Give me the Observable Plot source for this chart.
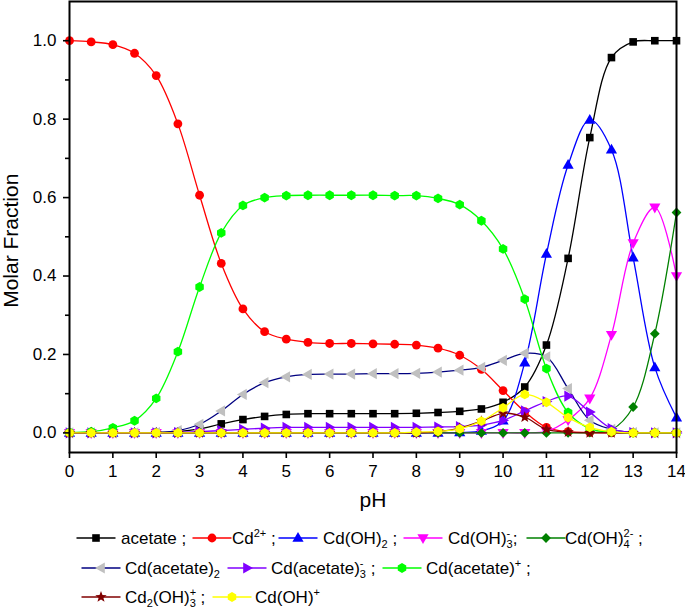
<!DOCTYPE html>
<html>
<head>
<meta charset="utf-8">
<script src="https://cdn.jsdelivr.net/npm/d3@7"></script>
<script src="https://cdn.jsdelivr.net/npm/@observablehq/plot@0.6"></script>
<style>
  body { margin: 0; background: #fff; font-family: "Liberation Sans", Arial, sans-serif; }
  #chart { width: 685px; height: 515px; }
  #legend { position: relative; width: 685px; height: 96px; font-size: 17px; color: #000; }
  .sample { position: absolute; width: 40px; height: 20px; }
  .lab { position: absolute; height: 20px; line-height: 20px; white-space: nowrap; }
  sub, sup { font-size: 11px; line-height: 0; }
  sub { vertical-align: -4px; }
  sup { vertical-align: 7px; }
  .ss { position: relative; display: inline-block; font-size: 11px; line-height: 11px; }
  .ss .w { visibility: hidden; }
  .ss .p, .ss .b { position: absolute; left: 0; line-height: 11px; }
  .ss .p { top: -7px; }
  .ss .b { top: 4px; }
</style>
</head>
<body>
<div id="chart"></div>
<div id="legend"></div>
<script>
// ---- data ----
const pH = [0,0.5,1,1.5,2,2.5,3,3.5,4,4.5,5,5.5,6,6.5,7,7.5,8,8.5,9,9.5,10,10.5,11,11.5,12,12.5,13,13.5,14];
const acetate      = [0,0,0,0,0.001,0.003,0.01,0.023,0.034,0.042,0.047,0.049,0.049,0.049,0.049,0.049,0.05,0.052,0.055,0.061,0.078,0.117,0.224,0.445,0.753,0.957,0.997,1.0,1.0];
const cd2          = [1.0,0.997,0.99,0.968,0.911,0.788,0.606,0.432,0.316,0.258,0.239,0.231,0.228,0.228,0.227,0.226,0.224,0.216,0.198,0.162,0.108,0.054,0.014,0.003,0.001,0,0,0,0];
const cdOH2        = [0,0,0,0,0,0,0,0,0,0,0,0,0,0,0,0,0,0,0.001,0.005,0.031,0.179,0.456,0.683,0.798,0.722,0.447,0.167,0.039];
const cdOH3        = [0,0,0,0,0,0,0,0,0,0,0,0,0,0,0,0,0,0,0,0,0,0,0.004,0.033,0.088,0.25,0.484,0.575,0.40];
const cdOH4        = [0,0,0,0,0,0,0,0,0,0,0,0,0,0,0,0,0,0,0,0,0,0,0,0,0.001,0.008,0.066,0.253,0.562];
const cdAc2        = [0,0,0,0,0.001,0.006,0.022,0.056,0.098,0.128,0.143,0.149,0.150,0.150,0.151,0.151,0.152,0.155,0.160,0.167,0.185,0.203,0.194,0.113,0.032,0.009,0.001,0,0];
const cdAc3        = [0,0,0,0,0,0.001,0.003,0.006,0.009,0.012,0.014,0.014,0.014,0.014,0.014,0.014,0.014,0.015,0.016,0.02,0.032,0.056,0.08,0.094,0.053,0.011,0.001,0,0];
const cdAc         = [0.001,0.003,0.013,0.031,0.088,0.207,0.372,0.51,0.58,0.600,0.605,0.606,0.606,0.606,0.606,0.605,0.605,0.598,0.582,0.541,0.469,0.341,0.164,0.052,0.011,0.002,0,0,0];
const cd2OH3       = [0,0,0,0,0,0,0,0,0,0,0,0,0,0,0,0,0,0.003,0.012,0.03,0.05,0.04,0.009,0.002,0,0,0,0,0];
const cdOH         = [0,0,0,0,0,0,0,0,0,0,0,0,0,0,0,0,0.002,0.004,0.01,0.03,0.064,0.098,0.078,0.039,0.014,0.003,0,0,0];
const xTicks = [0,1,2,3,4,5,6,7,8,9,10,11,12,13,14];
const yMajor = [0,0.2,0.4,0.6,0.8,1.0];
const yMinor = [0.1,0.3,0.5,0.7,0.9];

// ---- marker shapes ----
function poly(ctx, pts) { ctx.moveTo(pts[0][0], pts[0][1]); for (let i = 1; i < pts.length; i++) ctx.lineTo(pts[i][0], pts[i][1]); ctx.closePath(); }
const shapes = {
  square: ctx => { ctx.rect(-3.8,-3.8,7.6,7.6); },
  circle: ctx => { ctx.moveTo(4.4,0); ctx.arc(0,0,4.4,0,2*Math.PI); },
  hexagon: ctx => { const r = 4.9; poly(ctx, d3.range(6).map(k => { const a = (-90 + 60*k) * Math.PI/180; return [r*Math.cos(a), r*Math.sin(a)]; })); },
  diamond: ctx => { const h = 4.9; poly(ctx, [[0,-h],[h,0],[0,h],[-h,0]]); },
  star: ctx => { const R = 6, r0 = 2.5; poly(ctx, d3.range(10).map(k => { const a = (-90 + 36*k) * Math.PI/180, rr = k % 2 ? r0 : R; return [rr*Math.cos(a), rr*Math.sin(a)]; })); }
};
function triangle(deg) {
  const a = deg * Math.PI/180, c = Math.cos(a), s = Math.sin(a);
  const base = [[0,-6],[-5.6,3.8],[5.6,3.8]];
  return ctx => poly(ctx, base.map(([x,y]) => [x*c - y*s, x*s + y*c]));
}
shapes.triUp = triangle(0);
shapes.triDown = triangle(180);
shapes.triLeft = triangle(-90);
shapes.triRight = triangle(90);
const sym = name => ({ draw: (ctx) => shapes[name](ctx) });

// stacked superscript over subscript; the hidden copy reserves the wider of the two
const stack = (sup, sub) => {
  const w = sup.length > 1 ? sup : sub;
  return `<span class="ss"><span class="w">${w}</span><span class="p">${sup}</span><span class="b">${sub}</span></span>`;
};

// ---- series definitions ----
const series = [
  { values: acetate, line: "#000000", fill: "#000000", shape: "square",   label: 'acetate ;' },
  { values: cd2,     line: "#FF0000", fill: "#FF0000", shape: "circle",   label: 'Cd<sup>2+</sup> ;' },
  { values: cdOH2,   line: "#0000FF", fill: "#0000FF", shape: "triUp",    label: 'Cd(OH)<sub>2</sub> ;' },
  { values: cdOH3,   line: "#FF00FF", fill: "#FF00FF", shape: "triDown",  label: 'Cd(OH)' + stack('-', '3') + ';' },
  { values: cdOH4,   line: "#008000", fill: "#008000", shape: "diamond",  label: 'Cd(OH)' + stack('2-', '4') + ' ;' },
  { values: cdAc2,   line: "#000080", fill: "#C0C0C0", shape: "triLeft",  label: 'Cd(acetate)<sub>2</sub>' },
  { values: cdAc3,   line: "#8000FF", fill: "#8000FF", shape: "triRight", label: 'Cd(acetate)' + stack('-', '3') + ' ;' },
  { values: cdAc,    line: "#00FF00", fill: "#00FF00", shape: "hexagon",  label: 'Cd(acetate)<sup>+</sup> ;' },
  { values: cd2OH3,  line: "#800000", fill: "#800000", shape: "star",     label: 'Cd<sub>2</sub>(OH)' + stack('+', '3') + ' ;' },
  { values: cdOH,    line: "#FFFF00", fill: "#FFFF00", shape: "hexagon",  label: 'Cd(OH)<sup>+</sup>' }
];

const marks = [];
for (const s of series) {
  const rows = pH.map((x, i) => ({ x, y: s.values[i] }));
  marks.push(Plot.line(rows, { x: "x", y: "y", stroke: s.line, strokeWidth: 1.3, curve: "catmull-rom" }));
  marks.push(Plot.dot(rows, { x: "x", y: "y", symbol: sym(s.shape), r: 4, fill: s.fill, stroke: "none" }));
}

const chart = Plot.plot({
  width: 685,
  height: 515,
  marginLeft: 69,
  marginRight: 9,
  marginTop: 1,
  marginBottom: 63,
  style: { fontFamily: "Liberation Sans, Arial, sans-serif", fontSize: "17px", color: "#000", background: "#fff", overflow: "visible" },
  x: { domain: [0, 14] },
  y: { domain: [-0.05, 1.1] },
  marks: [
    ...marks,
    Plot.frame({ stroke: "#000", strokeWidth: 2 }),
    Plot.axisX({ ticks: xTicks, tickSize: 6, tickPadding: 6, strokeWidth: 1.6, tickFormat: d => String(d), label: null, fontSize: 17 }),
    Plot.axisY({ ticks: yMajor, tickSize: 6, tickPadding: 7, strokeWidth: 1.6, tickFormat: d3.format(".1f"), label: null, fontSize: 17 }),
    Plot.axisY({ ticks: yMinor, tickSize: 4, strokeWidth: 1.6, tickFormat: () => "", label: null }),
    Plot.text(["Molar Fraction"], { x: () => 0, y: () => 0.49, text: d => d, rotate: -90, dx: -58, fontSize: 21, fill: "#000" }),
    Plot.text(["pH"], { x: () => 7, y: () => -0.05, text: d => d, dy: 48, fontSize: 21, fill: "#000" })
  ]
});
document.getElementById("chart").appendChild(chart);

// ---- legend (HTML, below the SVG) ----
function sample(s) {
  const p = d3.path();
  shapes[s.shape](p);
  return `<svg width="40" height="20" viewBox="-20 -10 40 20"><line x1="-19.5" x2="19.5" y1="0" y2="0" stroke="${s.line}" stroke-width="1.5"/><path d="${p.toString()}" fill="${s.fill}"/></svg>`;
}
// legend layout: [series index, left edge of sample line, gap to text, row centre (page y)]
const legendPlaces = [
  [0, 76, 45, 538], [1, 192, 40, 538], [2, 278, 45, 538], [3, 403, 45, 538], [4, 526, 39, 538],
  [5, 81, 44, 568], [6, 227, 44, 568], [7, 382, 44, 568],
  [8, 81, 44, 597], [9, 212, 43, 597]
];
const legend = document.getElementById("legend");
for (const [i, left, gap, cy] of legendPlaces) {
  const top = cy - 515 - 10;
  const sm = document.createElement("div");
  sm.className = "sample";
  sm.style.left = left + "px";
  sm.style.top = top + "px";
  sm.innerHTML = sample(series[i]);
  legend.appendChild(sm);
  const lab = document.createElement("div");
  lab.className = "lab";
  lab.style.left = (left + gap) + "px";
  lab.style.top = (top + 1) + "px";
  lab.innerHTML = series[i].label;
  legend.appendChild(lab);
}
</script>
</body>
</html>
